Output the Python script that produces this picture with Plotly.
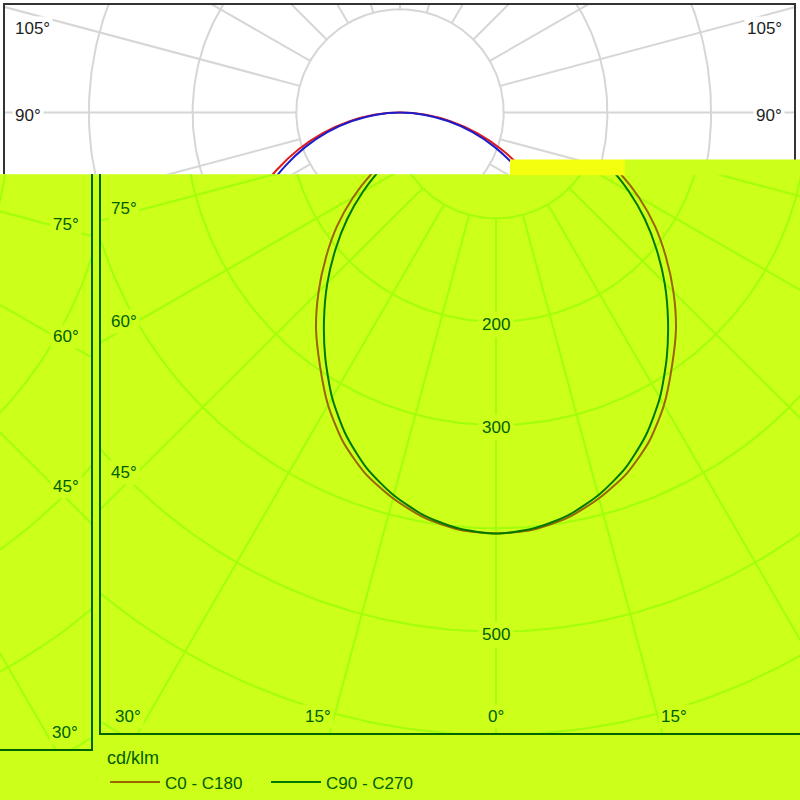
import numpy as np
import plotly.graph_objects as go

# ---------------- data (cd/klm) ----------------
gamma_deg = [0, 5, 10, 15, 20, 25, 30, 35, 40, 45, 50, 55, 60, 65, 70, 75, 80, 85, 90]
c0_c180 = [405, 403, 396, 384, 369, 349, 324, 296, 270, 242, 214, 187, 159, 131, 104, 77, 50, 25, 0]
c90_c270 = [405, 402, 394, 381, 364, 342, 316, 287, 258, 230, 202, 175, 148, 122, 97, 72, 47, 23, 0]
series_names = ["C0 - C180", "C90 - C270"]
ring_values = [100, 200, 300, 400, 500, 600, 700, 800, 900]
ring_label_values = [200, 300, 500]
spoke_angles = list(range(-180, 181, 15))
unit_label = "cd/klm"

# ---------------- styling / geometry ----------------
W = H = 800
S = 1.037  # px per cd/klm
FONT = "Liberation Sans"
FS = 17
TEXT_DY = 3  # px, compensates annotation baseline

themes = {
    "white": dict(bg="#FFFFFF", grid="#D6D6D6", frame="#333333", text="#1E1E1E",
                  curves=["#DD1C1C", "#1C1CCC"]),
    "lime": dict(bg="#CCFF1A", grid="#A2FF0A", frame="#006400", text="#005E00",
                 curves=["#9A6400", "#007800"]),
}

panels = [
    dict(xa="x", ya="y", dom=(5, 794, 5, 175), c=(400, 113), frame=(5, 794, 5, 734),
         theme="white", xside="top", yside="left", ymirror=True, legend=False),
    dict(xa="x2", ya="y2", dom=(101, 800, 175, 736), c=(496, 115.5), frame=(101, 890, 7.5, 736),
         theme="lime", xside="bottom", yside="left", ymirror=False, legend=True),
    dict(xa="x3", ya="y3", dom=(0, 91, 175, 752), c=(-303, 131), frame=(-698, 91, 23, 752),
         theme="lime", xside="bottom", yside="right", ymirror=False, legend=False),
]


def mirror_curve(vals):
    g = np.array(gamma_deg, dtype=float)
    v = np.array(vals, dtype=float)
    th = np.concatenate([-g[::-1], g[1:]])
    r = np.concatenate([v[::-1], v[1:]])
    t = np.radians(th)
    return r * np.sin(t), -r * np.cos(t)


fig = go.Figure()
annotations = []
layout_axes = {}

for p in panels:
    th = themes[p["theme"]]
    cx, cy = p["c"]
    x0, x1, y0, y1 = p["dom"]
    fl, fr, ft, fb = p["frame"]
    xa, ya = p["xa"], p["ya"]

    # rings
    rx, ry = [], []
    tt = np.radians(np.arange(0, 361, 1))
    for r in ring_values:
        rx += list(r * np.sin(tt)) + [None]
        ry += list(-r * np.cos(tt)) + [None]
    fig.add_trace(go.Scatter(x=rx, y=ry, mode="lines", xaxis=xa, yaxis=ya,
                             line=dict(color=th["grid"], width=2), hoverinfo="skip",
                             showlegend=False))
    # spokes
    sx, sy = [], []
    for a in spoke_angles:
        t = np.radians(a)
        sx += [ring_values[0] * np.sin(t), 1200 * np.sin(t), None]
        sy += [-ring_values[0] * np.cos(t), -1200 * np.cos(t), None]
    fig.add_trace(go.Scatter(x=sx, y=sy, mode="lines", xaxis=xa, yaxis=ya,
                             line=dict(color=th["grid"], width=2), hoverinfo="skip",
                             showlegend=False))
    # curves
    for vals, name, col in zip([c0_c180, c90_c270], series_names, th["curves"]):
        cxs, cys = mirror_curve(vals)
        fig.add_trace(go.Scatter(x=cxs, y=cys, mode="lines", xaxis=xa, yaxis=ya, name=name,
                                 line=dict(color=col, width=2, shape="spline", smoothing=0.7),
                                 showlegend=p["legend"]))

    # axes (frame lines)
    n = xa[1:]
    xkey = "xaxis" + n
    ykey = "yaxis" + n
    common = dict(showgrid=False, zeroline=False, showticklabels=False, ticks="",
                  showline=True, linecolor=th["frame"], linewidth=2, fixedrange=True)
    layout_axes[xkey] = dict(common, domain=[x0 / W, x1 / W],
                             range=[(x0 - cx) / S, (x1 - cx) / S], side=p["xside"],
                             anchor=ya)
    layout_axes[ykey] = dict(common, domain=[1 - y1 / H, 1 - y0 / H],
                             range=[(cy - y1) / S, (cy - y0) / S], side=p["yside"],
                             anchor=xa, mirror=p["ymirror"])

    def to_data(px, py):
        return (px - cx) / S, (cy - py) / S

    # angle labels
    xl, xr, yb, yt = fl + 24, fr - 24, fb - 20, ft + 10
    for a in spoke_angles:
        aa = abs(a)
        if aa == 180:
            continue
        sgn = 1 if a > 0 else -1
        inf = 1e9

        def hits(phi):
            dx = sgn * np.sin(np.radians(phi))
            dy = np.cos(np.radians(phi))
            t_side = inf
            if dx > 1e-9:
                t_side = (xr - cx) / dx
            elif dx < -1e-9:
                t_side = (xl - cx) / dx
            t_b = (yb - cy) / dy if dy > 1e-9 else inf
            t_t = (yt - cy) / dy if dy < -1e-9 else inf
            return dx, dy, t_side, t_b, t_t

        if aa in (0, 90):
            phi = aa
        elif aa < 90:
            phi = aa + 1.2
        else:
            phi = aa - 1.7
        dx, dy, t_side, t_b, t_t = hits(phi)
        tmin = min(t_side, t_b, t_t)
        if tmin == t_t:
            continue
        if tmin == t_side:
            py = cy + t_side * dy
            if dx > 0:
                px, anchor = fr - 9, "right"
                ok = px <= x1
            else:
                px, anchor = fl + 7, "left"
                ok = px >= x0
        else:
            if aa not in (0, 90):
                dx, dy, t_side, t_b, t_t = hits(aa + 1.5)
            px, py, anchor = cx + t_b * dx, yb, "center"
            ok = x0 + 12 <= px <= x1 - 12
        ok = ok and (y0 + 10 <= py <= y1 - 10)
        if not ok:
            continue
        dxv, dyv = to_data(px, py + TEXT_DY)
        annotations.append(dict(x=dxv, y=dyv, xref=xa, yref=ya, text=f"{aa}°", showarrow=False,
                                xanchor=anchor, yanchor="middle", bgcolor=th["bg"], borderpad=2,
                                font=dict(family=FONT, size=FS, color=th["text"])))
    # ring labels
    for r in ring_label_values:
        px, py = cx, cy + r * S
        if x0 + 15 <= px <= x1 - 15 and y0 + 10 <= py <= y1 - 10:
            dxv, dyv = to_data(px, py + TEXT_DY)
            annotations.append(dict(x=dxv, y=dyv, xref=xa, yref=ya, text=str(r), showarrow=False,
                                    xanchor="center", yanchor="middle", bgcolor=th["bg"],
                                    borderpad=3,
                                    font=dict(family=FONT, size=FS, color=th["text"])))

lime = themes["lime"]
shapes = [
    dict(type="rect", xref="paper", yref="paper", x0=0, x1=1, y0=1 - 175 / H, y1=1,
         fillcolor="#FFFFFF", line=dict(width=0), layer="below"),
    dict(type="rect", xref="paper", yref="paper", x0=510 / W, x1=625 / W, y0=1 - 176 / H,
         y1=1 - 160 / H, fillcolor="#F4FF10", line=dict(width=0), layer="above"),
    dict(type="rect", xref="paper", yref="paper", x0=625 / W, x1=1, y0=1 - 176 / H,
         y1=1 - 160 / H, fillcolor=lime["bg"], line=dict(width=0), layer="above"),
]

fig.update_layout(
    width=W, height=H, margin=dict(l=0, r=0, t=0, b=0),
    paper_bgcolor=lime["bg"], plot_bgcolor="rgba(0,0,0,0)",
    font=dict(family=FONT, size=FS, color=lime["text"]),
    annotations=annotations, shapes=shapes,
    legend=dict(orientation="h", x=105 / W, xanchor="left", y=1 - 744 / H, yanchor="top",
                bgcolor="rgba(0,0,0,0)", borderwidth=0, itemwidth=50,
                title=dict(text=unit_label, side="top", font=dict(size=18, color=lime["text"])),
                font=dict(family=FONT, size=FS, color=lime["text"]),
                entrywidth=96, entrywidthmode="pixels", tracegroupgap=0),
    **layout_axes,
)

fig.write_html("out.html", config={"displayModeBar": False},
               post_script="document.body.style.margin='0';document.body.style.padding='0';")
